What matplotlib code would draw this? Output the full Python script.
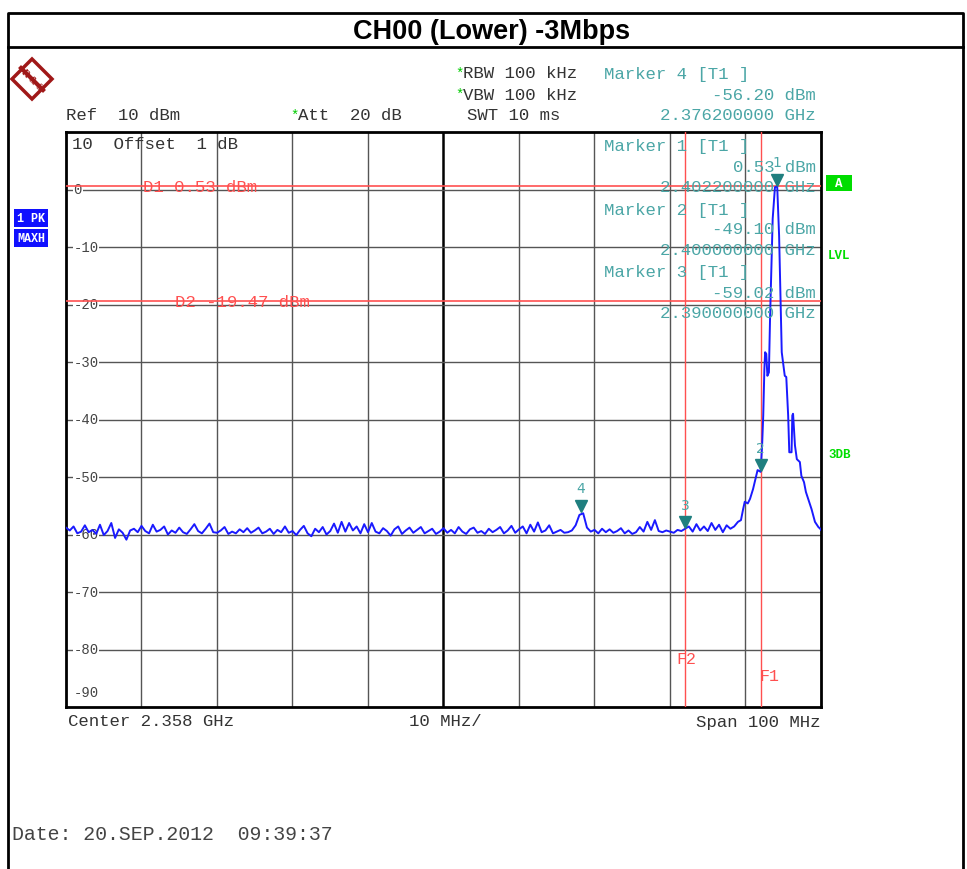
import numpy as np
import matplotlib.pyplot as plt
from matplotlib.patches import Polygon, Rectangle

# sweep: 2.308 .. 2.408 GHz (values in MHz)
center_mhz = 2358
span_mhz = 100
ref_level = 10
y_ticks = [0, -10, -20, -30, -40, -50, -60, -70, -80, -90]

# noise floor trace, 0.5 MHz steps from 2308 MHz to 2395.5 MHz
noise_dbm = [
    -58.8, -59.3, -58.6, -59.8, -59.5, -58.4, -59.6, -59.2, -59.9, -58.3,
    -60.1, -59.4, -58.0, -60.6, -59.1, -59.7, -60.9, -59.3, -59.0, -59.6,
    -58.5, -59.4, -59.8, -58.3, -59.5, -59.2, -58.6, -60.0, -59.3, -59.7,
    -58.8, -59.6, -59.9, -59.1, -58.2, -59.4, -59.8, -59.0, -58.1, -59.6,
    -59.7, -59.3, -58.7, -59.9, -59.5, -59.8, -59.1, -59.6, -58.9, -59.7,
    -59.3, -58.8, -59.8, -59.5, -59.0, -59.9, -59.2, -59.6, -58.6, -59.7,
    -59.4, -60.1, -59.2, -58.5, -59.8, -60.3, -59.0, -59.6, -58.7, -60.0,
    -59.4, -58.1, -59.7, -57.8, -59.5, -58.0, -59.3, -58.6, -59.8, -58.2,
    -59.6, -58.0, -59.5, -59.8, -58.9, -59.4, -60.2, -59.1, -58.6, -59.9,
    -59.3, -58.8, -59.7, -59.2, -58.7, -59.8, -59.4, -59.0, -59.9, -59.5,
    -58.9, -59.7, -59.2, -59.8, -58.7, -59.5, -59.9, -59.1, -58.8, -59.7,
    -59.4, -59.9, -59.0, -59.6, -59.2, -58.7, -59.8, -59.3, -58.5, -59.7,
    -59.1, -58.6, -59.8, -58.3, -59.5, -57.9, -59.6, -59.3, -58.4, -59.8,
    -59.5, -59.2, -59.7, -59.6, -59.3, -58.4, -56.6, -56.3, -58.8, -59.5,
    -59.2, -59.8, -59.0, -59.6, -59.1, -59.7, -59.4, -58.9, -59.8, -59.3,
    -59.9, -59.6, -58.7, -59.5, -57.8, -59.2, -57.5, -59.4, -59.6, -59.3,
    -59.5, -59.7, -59.2, -59.4, -59.0, -58.6, -59.5, -58.2, -59.3, -58.6,
    -59.4, -58.0, -59.2, -58.3, -59.6, -58.4,
]
noise_mhz = np.arange(len(noise_dbm)) * 0.5 + 2308

# carrier region
peak_mhz = [2396.0, 2396.5, 2397.0, 2397.4, 2397.7, 2397.9, 2398.3, 2398.6, 2399.0,
            2399.6, 2400.0, 2400.2, 2400.35, 2400.5, 2400.6, 2400.75, 2400.9, 2401.1,
            2401.25, 2401.6, 2401.9, 2402.2, 2402.45, 2402.65, 2402.8, 2403.2, 2403.4,
            2403.65, 2403.8, 2404.1, 2404.2, 2404.3, 2404.55, 2404.8, 2405.2, 2405.4,
            2405.75, 2406.0, 2406.3, 2406.75, 2407.2, 2407.65, 2407.9, 2408.0]
peak_dbm = [-59.0, -58.6, -57.8, -57.5, -55.5, -54.3, -54.6, -53.8, -52.1,
            -48.8, -49.1, -44.5, -39.3, -31.2, -28.3, -28.6, -32.4, -31.8,
            -22.5, -5.1, 0.4, 0.53, -8.0, -19.6, -28.3, -32.4, -32.6,
            -39.3, -45.7, -45.7, -39.3, -39.0, -44.5, -46.9, -47.4, -49.8,
            -50.9, -52.6, -53.8, -55.6, -57.8, -58.7, -59.0, -59.2]

marker_ids = [1, 2, 3, 4]
marker_mhz = [2402.2, 2400.0, 2390.0, 2376.2]
marker_dbm = [0.53, -49.10, -59.02, -56.20]
display_lines = [("D1", 0.53), ("D2", -19.47)]
freq_lines = [("F1", 2400.0), ("F2", 2390.0)]

W, H = 967, 870
fig = plt.figure(figsize=(W / 100, H / 100), dpi=100)
mono = "Liberation Mono"
teal = "#4ba6a6"
red = "#ff5050"


def ftext(x, y, s, **kw):
    kw.setdefault("family", mono)
    kw.setdefault("va", "center")
    fig.text(x / W, 1 - y / H, s, **kw)


# outer frame and title bar
frame = fig.add_axes([0, 0, 1, 1])
frame.set_xlim(0, W)
frame.set_ylim(H, 0)
frame.axis("off")
frame.plot([8, 8, 963, 963], [H + 5, 14, 14, H + 5], color="black", lw=2)
frame.plot([8, 963], [48, 48], color="black", lw=2)
ftext(492, 32, "CH00 (Lower) -3Mbps", family="Liberation Sans", weight="bold",
      fontsize=19.5, ha="center")

# R&S logo
frame.add_patch(Polygon([[32, 60], [52, 80], [32, 100], [12, 80]], closed=True,
                        fill=False, edgecolor="#a01818", lw=2.5))
frame.plot([21, 43], [69, 91], color="#a01818", lw=3)
frame.text(32, 80, "R & S", color="#a01818", fontsize=7, ha="center", va="center",
           rotation=-45, family="Liberation Serif", weight="bold")

# header
hdr = dict(fontsize=12.5, color="#333333")
ftext(66, 116, "Ref  10 dBm", **hdr)
ftext(290, 116, "*", color="#00cc00", fontsize=10)
ftext(298, 116, "Att  20 dB", **hdr)
ftext(455, 74, "*", color="#00cc00", fontsize=10)
ftext(463, 74, "RBW 100 kHz", **hdr)
ftext(455, 95, "*", color="#00cc00", fontsize=10)
ftext(463, 95, "VBW 100 kHz", **hdr)
ftext(467, 116, "SWT 10 ms", **hdr)
ftext(604, 74, "Marker 4 [T1 ]", fontsize=12.5, color=teal)
ftext(816, 95, "-56.20 dBm", fontsize=12.5, color=teal, ha="right")
ftext(816, 116, "2.376200000 GHz", fontsize=12.5, color=teal, ha="right")

# left side boxes
for y, s in [(219, "1 PK"), (239, "MAXH")]:
    ftext(31, y, s, fontsize=8.5, color="white", weight="bold", ha="center",
          bbox=dict(facecolor="#1010ff", edgecolor="none", pad=2.5))

# right side labels
frame.add_patch(Rectangle((826, 176), 26, 16, facecolor="#00dd00", edgecolor="none"))
ftext(839, 184, "A", fontsize=9, color="white", weight="bold", ha="center")
ftext(828, 256, "LVL", fontsize=9, color="#00dd00", weight="bold")
ftext(828, 455, "3DB", fontsize=9, color="#00dd00", weight="bold")

# bottom texts
ftext(68, 722, "Center 2.358 GHz", **hdr)
ftext(445, 722, "10 MHz/", ha="center", **hdr)
ftext(821, 722, "Span 100 MHz", ha="right", **hdr)
ftext(12, 835, "Date: 20.SEP.2012  09:39:37", fontsize=14.3, color="#444444")

# main screen
ax = fig.add_axes([66 / W, 1 - 708 / H, 755 / W, 575 / H])
fmin, fmax = center_mhz - span_mhz / 2, center_mhz + span_mhz / 2
ax.set_xlim(fmin, fmax)
ax.set_ylim(ref_level - 100, ref_level)
ax.set_xticks([])
ax.set_yticks([])
for s in ax.spines.values():
    s.set_linewidth(2)
for f in np.arange(fmin + 10, fmax, 10):
    lw, c = (1.8, "black") if f == center_mhz else (1.0, "#555555")
    ax.axvline(f, color=c, lw=lw, zorder=1)
for y in y_ticks[:-1]:
    ax.axhline(y, color="#555555", lw=1.0, zorder=1)
for y in y_ticks[:-1]:
    ax.text(fmin + 1.0, y, "-" + str(abs(y)) if y < 0 else "0", fontsize=10,
            family=mono, color="#444444", va="center", ha="left", zorder=2,
            bbox=dict(facecolor="white", edgecolor="none", pad=0.5))
ax.text(fmin + 1.0, -87.4, "-90", fontsize=10, family=mono, color="#444444",
        va="center", ha="left")
ax.text(fmin + 0.8, 8.0, "10  Offset  1 dB", fontsize=12.5, family=mono,
        color="#333333", va="center", ha="left", zorder=2)

# display / frequency lines
for name, lvl in display_lines:
    ax.axhline(lvl, color=red, lw=1.2, zorder=3)
ax.text(2318.2, 0.53, "D1 0.53 dBm", fontsize=12.5, family=mono, color=red,
        va="center", zorder=3)
ax.text(2322.5, -19.47, "D2 -19.47 dBm", fontsize=12.5, family=mono, color=red,
        va="center", zorder=3)
for name, f in freq_lines:
    ax.axvline(f, color=red, lw=1.0, zorder=3)
ax.text(2399.8, -84.5, "F1", fontsize=12, family=mono, color=red, va="center", zorder=3)
ax.text(2388.8, -81.5, "F2", fontsize=12, family=mono, color=red, va="center", zorder=3)

# marker info block
info = [("Marker 1 [T1 ]", "0.53 dBm", "2.402200000 GHz"),
        ("Marker 2 [T1 ]", "-49.10 dBm", "2.400000000 GHz"),
        ("Marker 3 [T1 ]", "-59.02 dBm", "2.390000000 GHz")]
for k, (a, b, c) in enumerate(info):
    y0 = 147 + k * 63
    ftext(604, y0, a, fontsize=12.5, color=teal, zorder=4)
    ftext(816, y0 + 20, b, fontsize=12.5, color=teal, ha="right", zorder=4)
    ftext(816, y0 + 41, c, fontsize=12.5, color=teal, ha="right", zorder=4)

# trace
trace_f = np.concatenate([noise_mhz, peak_mhz])
trace_l = np.concatenate([noise_dbm, peak_dbm])
ax.plot(trace_f, trace_l, color="#1a1aff", lw=1.4, zorder=5)

# markers
for mid, f, l in zip(marker_ids, marker_mhz, marker_dbm):
    ax.plot(f, l + 1.2, marker="v", color="#1f7f7f", markersize=8, zorder=6)
    ax.text(f, l + 4.2, str(mid), fontsize=10, family="DejaVu Sans", color=teal,
            ha="center", va="center", zorder=6)

fig.savefig("out.png", dpi=100)
